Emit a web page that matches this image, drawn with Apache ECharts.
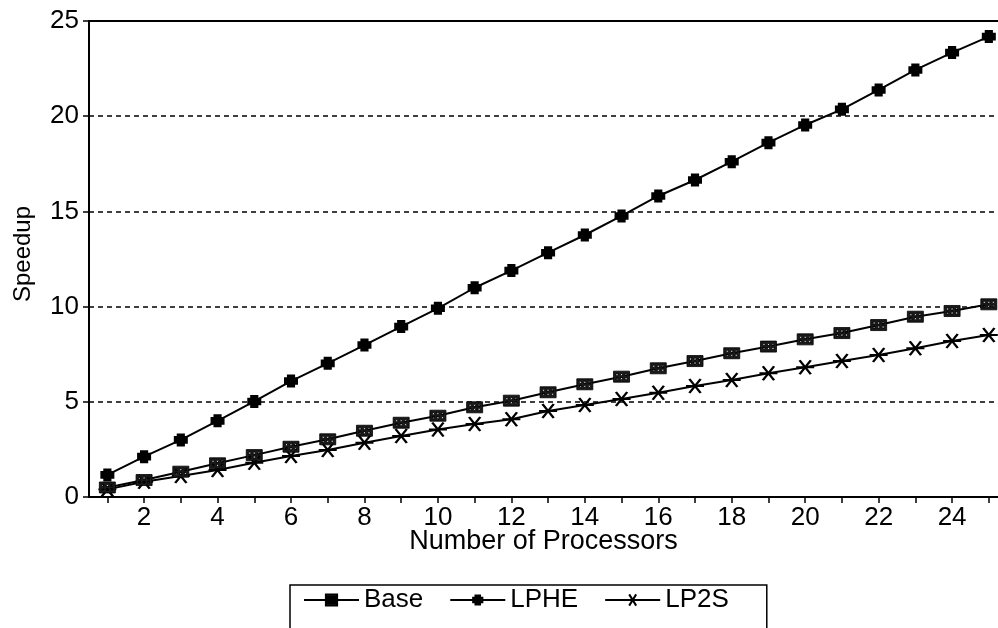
<!DOCTYPE html>
<html>
<head>
<meta charset="utf-8">
<script src="https://cdn.jsdelivr.net/npm/echarts@6/dist/echarts.min.js"></script>
<style>
html,body{margin:0;padding:0;background:#fff;}
#c{width:998px;height:628px;}
</style>
</head>
<body>
<div id="c"></div>
<script>
const processors = [1,2,3,4,5,6,7,8,9,10,11,12,13,14,15,16,17,18,19,20,21,22,23,24,25];
const xTickLabels = [2,4,6,8,10,12,14,16,18,20,22,24];
const yTicks = [0,5,10,15,20,25];
const baseSpeedup = [0.5,0.89,1.33,1.77,2.2,2.64,3.03,3.48,3.9,4.27,4.71,5.06,5.5,5.92,6.32,6.76,7.14,7.55,7.9,8.28,8.61,9.03,9.47,9.77,10.12];
const lpheSpeedup = [1.16,2.12,3.0,4.0,5.02,6.09,7.02,7.98,8.95,9.91,10.99,11.89,12.83,13.76,14.76,15.81,16.65,17.61,18.61,19.54,20.36,21.38,22.43,23.34,24.18];
const lp2sSpeedup = [0.4,0.8,1.1,1.42,1.8,2.15,2.47,2.85,3.2,3.55,3.83,4.08,4.52,4.83,5.15,5.48,5.83,6.14,6.5,6.81,7.14,7.46,7.81,8.19,8.51];
const seriesNames = ['Base','LPHE','LP2S'];

const FONT = '"Liberation Sans", Arial, Helvetica, sans-serif';
const pair = arr => processors.map((p,i)=>[p,arr[i]]);

const baseSym = 'path://M0,0 H16 V11 H0 Z M2.5,2.5 V4.5 H4.5 V2.5 Z M7,2.5 V4.5 H9 V2.5 Z M11.5,2.5 V4.5 H13.5 V2.5 Z M2.5,6.5 V8.5 H4.5 V6.5 Z M7,6.5 V8.5 H9 V6.5 Z M11.5,6.5 V8.5 H13.5 V6.5 Z';
const lpheSym = 'path://M2.5,0 H9.5 V2.5 H12 V9.5 H9.5 V12 H2.5 V9.5 H0 V2.5 H2.5 Z';
const lp2sSym = 'path://M0,6 L16,6 M3,0 L13,12 M3,12 L13,0';

const chart = echarts.init(document.getElementById('c'), null, {renderer:'canvas'});
const lineCommon = {
  type:'line',
  lineStyle:{color:'#000', width:2},
  emphasis:{disabled:true},
  animation:false
};
chart.setOption({
  backgroundColor:'#fff',
  animation:false,
  textStyle:{fontFamily:FONT, color:'#000'},
  grid:{left:89, top:21, right:0, bottom:131, containLabel:false},
  legend:{
    left:290, top:585,
    padding:[2,38,40,13],
    borderColor:'#000', borderWidth:1.5,
    itemWidth:55, itemHeight:14, itemGap:26,
    textStyle:{fontFamily:FONT, fontSize:26, color:'#000'},
    data:seriesNames
  },
  xAxis:[{
    type:'value', min:0.5, max:25.25, position:'bottom',
    name:'Number of Processors', nameLocation:'middle', nameGap:31, nameMoveOverlap:false,
    nameTextStyle:{fontFamily:FONT, fontSize:27, color:'#000'},
    axisLine:{show:true, onZero:false, lineStyle:{color:'#000', width:2}},
    axisTick:{show:true, length:6, inside:false, customValues:processors, lineStyle:{color:'#000', width:1.5}},
    axisLabel:{fontFamily:FONT, fontSize:26, color:'#000', margin:8, customValues:xTickLabels},
    splitLine:{show:false}
  },{
    type:'value', min:0.5, max:25.25, position:'top',
    axisLine:{show:true, onZero:false, lineStyle:{color:'#000', width:2}},
    axisTick:{show:false}, axisLabel:{show:false}, splitLine:{show:false}
  }],
  yAxis:{
    type:'value', min:0, max:25, interval:5,
    name:'Speedup', nameLocation:'middle', nameGap:54, nameMoveOverlap:false,
    nameTextStyle:{fontFamily:FONT, fontSize:24, color:'#000', padding:[0,0,0,10]},
    axisLine:{show:true, lineStyle:{color:'#000', width:2}},
    axisTick:{show:true, length:6, inside:false, lineStyle:{color:'#000', width:1.5}},
    axisLabel:{fontFamily:FONT, fontSize:26, color:'#000', margin:10},
    splitLine:{show:true, lineStyle:{color:'#000', width:1.5, type:[5,4]}}
  },
  series:[
    Object.assign({}, lineCommon, {
      name:'Base', data:pair(baseSpeedup), symbol:baseSym, symbolSize:[16,11], z:3,
      itemStyle:{color:'#1a1a1a', borderColor:'#000', borderWidth:0.8}
    }),
    Object.assign({}, lineCommon, {
      name:'LPHE', data:pair(lpheSpeedup), symbol:lpheSym, symbolSize:[14,13], z:4,
      itemStyle:{color:'#000', borderColor:'#000', borderWidth:0}
    }),
    Object.assign({}, lineCommon, {
      name:'LP2S', data:pair(lp2sSpeedup), symbol:lp2sSym, symbolSize:[18,14], z:2,
      itemStyle:{color:'rgba(0,0,0,0)', borderColor:'#000', borderWidth:2.2}
    })
  ]
});
</script>
</body>
</html>
